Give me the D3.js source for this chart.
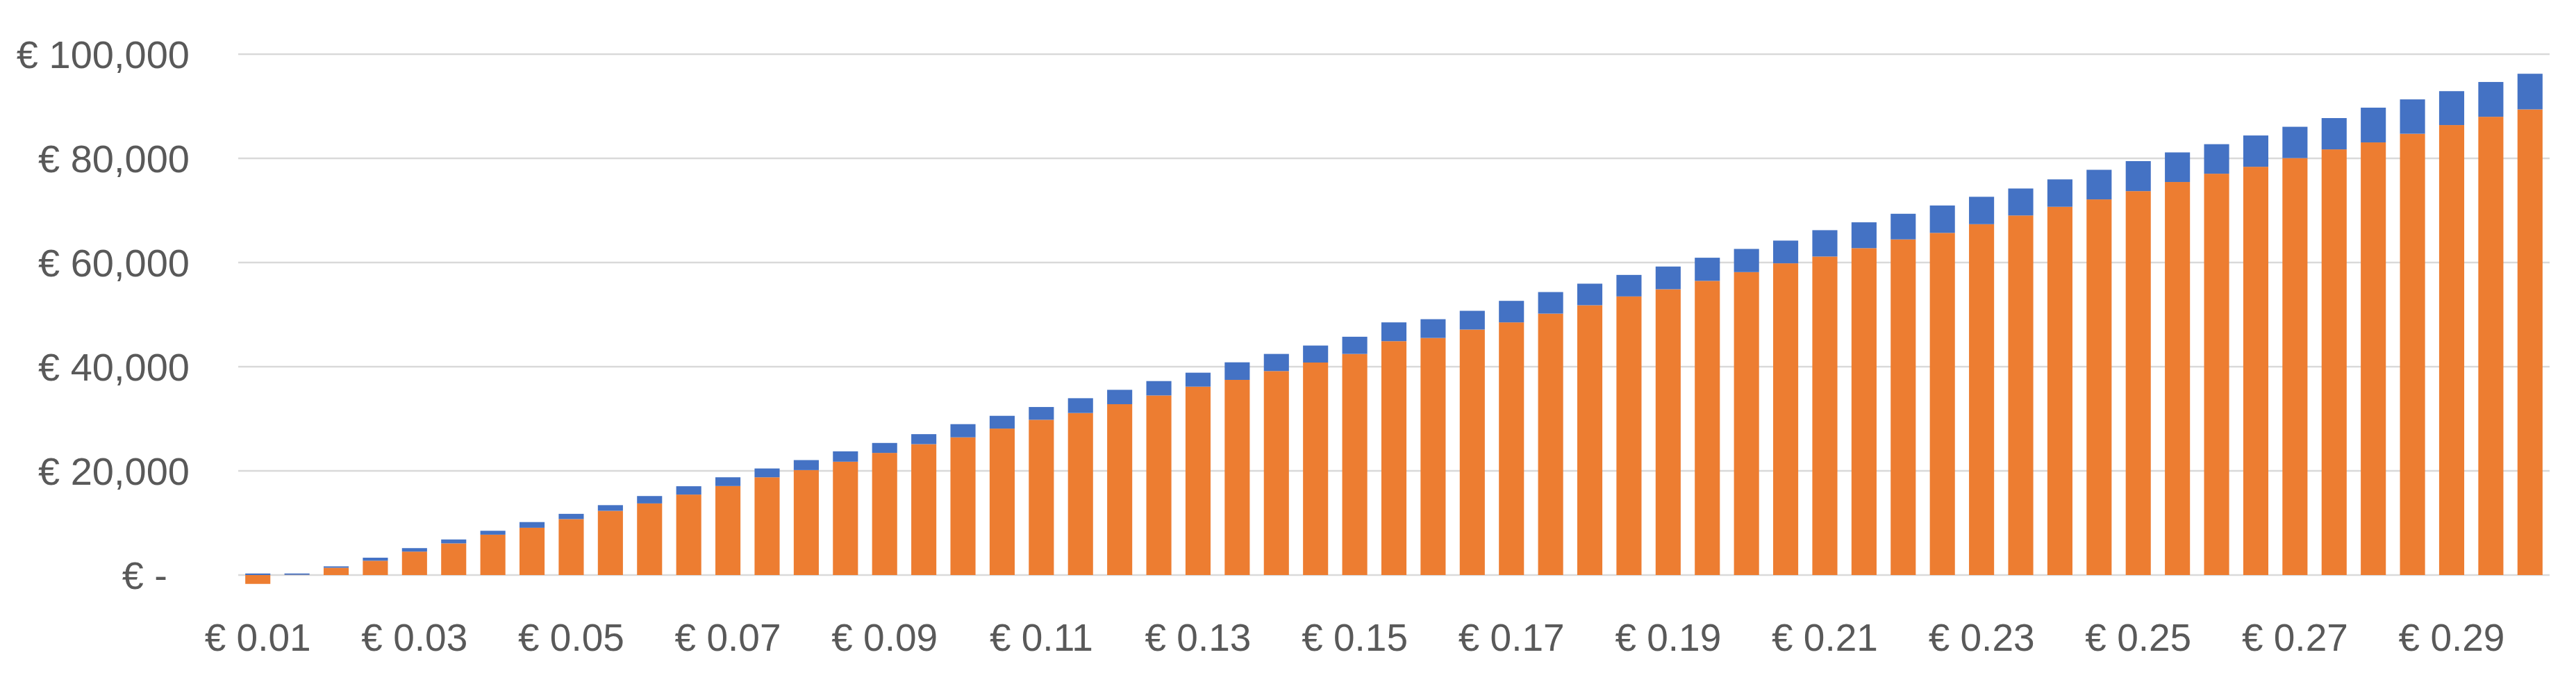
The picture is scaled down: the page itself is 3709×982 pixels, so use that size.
<!DOCTYPE html>
<html>
<head>
<meta charset="utf-8">
<script src="https://d3js.org/d3.v7.min.js"></script>
<style>
  body { margin: 0; background: #fff; }
  text { font-family: "Liberation Sans", Arial, sans-serif; fill: #595959; }
</style>
</head>
<body>
<script>
// price per unit (categories), step 0.005
const prices = [0.010,0.015,0.020,0.025,0.030,0.035,0.040,0.045,0.050,0.055,
  0.060,0.065,0.070,0.075,0.080,0.085,0.090,0.095,0.100,0.105,
  0.110,0.115,0.120,0.125,0.130,0.135,0.140,0.145,0.150,0.155,
  0.160,0.165,0.170,0.175,0.180,0.185,0.190,0.195,0.200,0.205,
  0.210,0.215,0.220,0.225,0.230,0.235,0.240,0.245,0.250,0.255,
  0.260,0.265,0.270,0.275,0.280,0.285,0.290,0.295,0.300];

const orangeVals = [-1700,50,1400,2750,4500,6080,7750,9080,10750,12330,
  13750,15450,17090,18770,20150,21760,23450,25130,26440,28120,
  29810,31110,32800,34480,36170,37470,39160,40800,42450,44900,
  45520,47130,48510,50190,51800,53490,54870,56480,58160,59850,
  61150,62760,64440,65690,67360,69030,70700,72120,73710,75460,
  77050,78380,80050,81720,83060,84720,86390,87980,89400];

const blueVals = [300,250,270,580,670,750,750,1090,1000,1090,
  1420,1600,1680,1690,1920,1990,1910,1920,2530,2450,
  2450,2840,2760,2760,2680,3370,3290,3260,3300,3610,
  3600,3600,4130,4140,4140,4130,4360,4440,4450,4360,
  5060,4960,4920,5260,5260,5180,5260,5680,5760,5680,
  5670,6010,6010,6010,6670,6600,6510,6680,6840];

const yTicks = [0,20000,40000,60000,80000,100000];

const W = 3709, H = 982;
const m = {left: 343, right: 38, top: 78, bottom: 154};

const svg = d3.select("body").append("svg").attr("width", W).attr("height", H);

const x = d3.scaleBand().domain(prices.map((p,i) => i))
  .range([m.left, W - m.right]).paddingInner(0.36).paddingOuter(0.18);
const y = d3.scaleLinear().domain([0, 100000]).range([H - m.bottom, m.top]);

// gridlines
svg.append("g").selectAll("line").data(yTicks).join("line")
  .attr("x1", m.left).attr("x2", W - m.right)
  .attr("y1", d => y(d)).attr("y2", d => y(d))
  .attr("stroke", "#d9d9d9").attr("stroke-width", 2.5);

const fmt = d3.format(",");
svg.append("g").selectAll("text").data(yTicks).join("text")
  .attr("x", d => d === 0 ? 241 : 273).attr("y", d => y(d)).attr("dy", "0.36em")
  .attr("text-anchor", "end").attr("font-size", 56)
  .text(d => d === 0 ? "€ -" : "€ " + fmt(d));

// stacked bars: orange bottom, blue on top (negatives stack below zero)
const rows = prices.map((p, i) => ({i, o: orangeVals[i], b: blueVals[i]}));
const g = svg.append("g");
rows.forEach(r => {
  let pos = 0, neg = 0;
  [[r.o, "#ED7D31"], [r.b, "#4472C4"]].forEach(([v, c]) => {
    let y0, y1;
    if (v >= 0) { y0 = pos; y1 = pos + v; pos = y1; }
    else { y0 = neg; y1 = neg + v; neg = y1; }
    g.append("rect")
      .attr("x", x(r.i)).attr("width", x.bandwidth())
      .attr("y", y(Math.max(y0, y1)))
      .attr("height", Math.abs(y(y0) - y(y1)))
      .attr("fill", c);
  });
});

// x labels every 4th category
svg.append("g").selectAll("text").data(rows.filter(r => r.i % 4 === 0)).join("text")
  .attr("x", r => x(r.i) + x.bandwidth() / 2).attr("y", 937)
  .attr("text-anchor", "middle").attr("font-size", 55)
  .text(r => "€ " + prices[r.i].toFixed(2));
</script>
</body>
</html>
